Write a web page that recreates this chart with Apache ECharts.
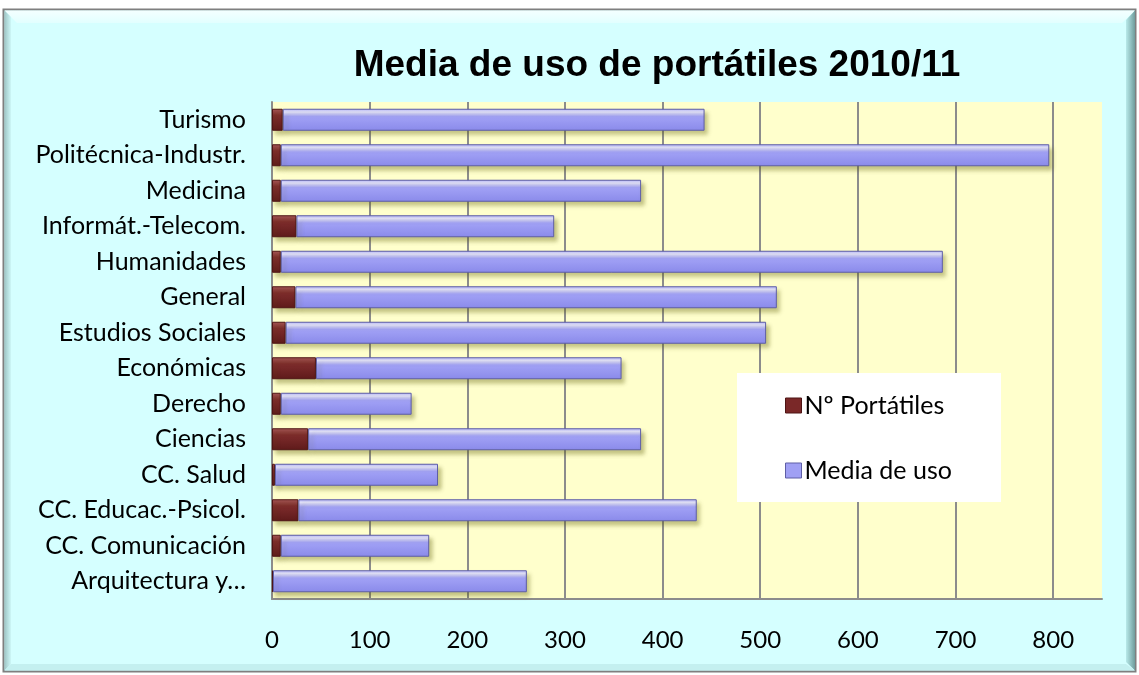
<!DOCTYPE html>
<html>
<head>
<meta charset="utf-8">
<title>Media de uso de portátiles 2010/11</title>
<script src="https://cdn.jsdelivr.net/npm/echarts@6/dist/echarts.min.js"></script>
<style>
  html, body { margin: 0; padding: 0; background: #ffffff; }
  #chart { width: 1139px; height: 675px; }
</style>
</head>
<body>
<div id="chart"></div>
<script>
// categorias (de abajo a arriba, como en el eje de Excel)
var categorias = [
  "Arquitectura y…",
  "CC. Comunicación",
  "CC. Educac.-Psicol.",
  "CC. Salud",
  "Ciencias",
  "Derecho",
  "Económicas",
  "Estudios Sociales",
  "General",
  "Humanidades",
  "Informát.-Telecom.",
  "Medicina",
  "Politécnica-Industr.",
  "Turismo"
];
// Nº Portátiles
var numPortatiles = [1, 9, 27, 3, 37, 9, 45, 14, 24, 9, 25, 9, 9, 11];
// Media de uso
var mediaUso = [260, 152, 408, 167, 341, 134, 313, 492, 493, 678, 264, 369, 787, 432];
var ticksEje = [0, 100, 200, 300, 400, 500, 600, 700, 800];

var fuente = "Lato, 'Open Sans', sans-serif";

var chart = echarts.init(document.getElementById("chart"));

// lineas de division: la ultima (850, borde derecho) invisible
var coloresRejilla = ticksEje.map(function () { return "#8c8c8c"; });
coloresRejilla.push("rgba(0,0,0,0)");

var option = {
  backgroundColor: "#ffffff",
  animation: false,
  title: {
    text: "Media de uso de portátiles 2010/11",
    left: 652,
    textAlign: "center",
    top: 42,
    textStyle: {
      fontFamily: "'Liberation Sans', Arial, sans-serif",
      fontWeight: "bold",
      fontSize: 37,
      color: "#000000"
    }
  },
  graphic: [
    // marco del grafico
    {
      type: "rect", z: -10,
      shape: { x: 3.5, y: 9.5, width: 1132, height: 662 },
      style: { fill: "#d5ffff", stroke: "#7f7f7f", lineWidth: 2 }
    },
    {
      type: "polygon", z: -9,
      shape: { points: [[4.5, 10.5], [1135, 10.5], [1122, 23], [17, 23]] },
      style: {
        fill: new echarts.graphic.LinearGradient(0, 0, 0, 1, [
          { offset: 0, color: "#f4ffff" },
          { offset: 1, color: "#e2ffff" }
        ])
      }
    },
    {
      type: "polygon", z: -9,
      shape: { points: [[1135, 10.5], [1135, 670.5], [1126, 662], [1126, 20]] },
      style: {
        fill: new echarts.graphic.LinearGradient(0, 0, 1, 0, [
          { offset: 0, color: "#b8eaea" },
          { offset: 1, color: "#6f9c9c" }
        ])
      }
    },
    {
      type: "polygon", z: -9,
      shape: { points: [[4.5, 10.5], [11, 17], [11, 664], [4.5, 670.5]] },
      style: {
        fill: new echarts.graphic.LinearGradient(0, 0, 1, 0, [
          { offset: 0, color: "#9fc6c6" },
          { offset: 1, color: "#cdf7f7" }
        ])
      }
    },
    {
      type: "polygon", z: -9,
      shape: { points: [[4.5, 670.5], [1135, 670.5], [1126, 664], [11, 664]] },
      style: { fill: "#c4f0f0" }
    },
    // caja blanca de la leyenda
    {
      type: "rect", z: 3,
      shape: { x: 737, y: 373, width: 264, height: 129 },
      style: { fill: "#ffffff" }
    }
  ],
  legend: {
    orient: "vertical",
    left: 780,
    top: 388,
    itemWidth: 16,
    itemHeight: 15,
    itemGap: 40,
    z: 5,
    textStyle: { fontFamily: fuente, fontSize: 25, color: "#000000", padding: [0, 0, 0, -2] },
    data: [
      { name: "Nº Portátiles", icon: "rect", itemStyle: { color: "#7a2828", borderColor: "#4e1414", borderWidth: 1 } },
      { name: "Media de uso", icon: "rect", itemStyle: { color: "#a0a0f4", borderColor: "#5e5ea6", borderWidth: 1 } }
    ]
  },
  grid: {
    left: 272,
    right: 37,
    top: 102,
    bottom: 76,
    show: true,
    backgroundColor: "#ffffcc",
    borderWidth: 0
  },
  xAxis: {
    type: "value",
    min: 0,
    max: 850,
    interval: 100,
    axisLine: { show: true, lineStyle: { color: "#8c8c8c", width: 2 } },
    axisTick: { show: false },
    axisLabel: {
      showMaxLabel: false,
      margin: 29,
      fontFamily: fuente,
      fontSize: 24,
      color: "#000000"
    },
    splitLine: { show: true, lineStyle: { color: coloresRejilla, width: 2 } }
  },
  yAxis: {
    type: "category",
    data: categorias,
    axisLine: { show: true, lineStyle: { color: "#8c8c8c", width: 2 } },
    axisTick: { show: false },
    axisLabel: {
      margin: 26,
      fontFamily: fuente,
      fontSize: 25,
      color: "#000000"
    }
  },
  series: [
    {
      name: "Nº Portátiles",
      type: "bar",
      stack: "total",
      barWidth: 22,
      data: numPortatiles,
      itemStyle: {
        color: new echarts.graphic.LinearGradient(0, 0, 0, 1, [
          { offset: 0, color: "#a85858" },
          { offset: 0.3, color: "#7e2c2c" },
          { offset: 1, color: "#5e1a1a" }
        ]),
        borderColor: "#4e1414",
        borderWidth: 1,
        shadowColor: "rgba(90,90,0,0.35)",
        shadowBlur: 4,
        shadowOffsetX: 3,
        shadowOffsetY: 4
      }
    },
    {
      name: "Media de uso",
      type: "bar",
      stack: "total",
      barWidth: 22,
      data: mediaUso,
      itemStyle: {
        color: new echarts.graphic.LinearGradient(0, 0, 0, 1, [
          { offset: 0, color: "#b4b4fa" },
          { offset: 0.15, color: "#e4e4ff" },
          { offset: 0.35, color: "#a2a2f6" },
          { offset: 1, color: "#8a8aea" }
        ]),
        borderColor: "#5e5ea6",
        borderWidth: 1,
        shadowColor: "rgba(90,90,0,0.35)",
        shadowBlur: 4,
        shadowOffsetX: 3,
        shadowOffsetY: 4
      }
    }
  ]
};

chart.setOption(option);
</script>
</body>
</html>
